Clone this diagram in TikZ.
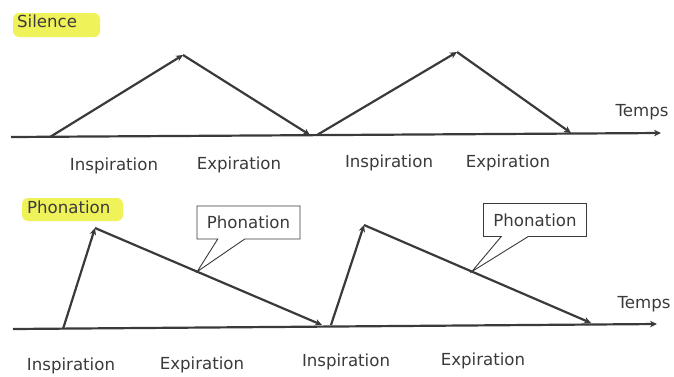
\documentclass[tikz,border=0pt]{standalone}
\usepackage{fontspec}
\setmainfont{DejaVu Sans}
\usetikzlibrary{arrows.meta,shapes.callouts,calc}
\definecolor{ink}{HTML}{3A3A3A}
\definecolor{hl}{HTML}{F0F25A}
\begin{document}
\begin{tikzpicture}[x=1pt,y=-1pt,
  arr/.style={draw=ink, line width=2.2pt, -{Stealth[length=7pt,width=6.5pt]}},
  lbl/.style={text=ink, font=\fontsize{16.6}{20}\selectfont, inner sep=0pt},
  hlbox/.style={fill=hl, rounded corners=6pt},
  bubble/.style={rectangle callout, draw=ink, line width=0.9pt, fill=white,
    text=ink, font=\fontsize{16.6}{20}\selectfont, inner sep=0pt,
    minimum width=103pt, minimum height=33pt, callout pointer width=27pt}]
\useasboundingbox (0,0) rectangle (674,376);
% highlights
\fill[hlbox] (13,13) rectangle (100,37);
\node[lbl, anchor=west] (silence) at (17,21) {Silence};
\fill[hlbox] (22,198) rectangle (123,221);
\node[lbl, anchor=west] (phon) at (27,207) {Phonation};
% top diagram
\coordinate (a1s) at (11,137);
\coordinate (a1e) at (661,133);
\coordinate (s1) at (50,137);
\coordinate (p1) at (183,55);
\coordinate (e1) at (310,135);
\coordinate (s2) at (317,135);
\coordinate (p2) at (457,52);
\coordinate (e2) at (571,133);
\draw[arr] (a1s) -- (a1e);
\draw[arr] (s1) -- (p1);
\draw[arr] (p1) -- (e1);
\draw[arr] (s2) -- (p2);
\draw[arr] (p2) -- (e2);
\node[lbl] (temps1) at (642,112) {Temps};
\node[lbl] (i1) at (114,166) {Inspiration};
\node[lbl] (x1) at (239,165) {Expiration};
\node[lbl] (i2) at (389,163) {Inspiration};
\node[lbl] (x2) at (508,163) {Expiration};
% bottom diagram
\coordinate (a2s) at (13,329);
\coordinate (a2e) at (657,324);
\coordinate (s3) at (63,329);
\coordinate (p3) at (95,228);
\coordinate (e3) at (322,325);
\coordinate (s4) at (331,325);
\coordinate (p4) at (364,225);
\coordinate (e4) at (591,323);
\draw[arr] (a2s) -- (a2e);
\draw[arr] (s3) -- (p3);
\draw[arr] (p3) -- (e3);
\draw[arr] (s4) -- (p4);
\draw[arr] (p4) -- (e4);
\node[lbl] (temps2) at (644,304) {Temps};
\node[lbl] (i3) at (71,366) {Inspiration};
\node[lbl] (x3) at (202,365) {Expiration};
\node[lbl] (i4) at (346,362) {Inspiration};
\node[lbl] (x4) at (483,361) {Expiration};
% callouts
\coordinate (q1) at ($(p3)!0.45!(e3)$);
\coordinate (q2) at ($(p4)!0.475!(e4)$);
\node[bubble, callout absolute pointer={(q1)}] (c1) at (248.5,222.5) {Phonation};
\node[bubble, callout absolute pointer={(q2)}] (c2) at (535,220) {Phonation};
\end{tikzpicture}
\end{document}
